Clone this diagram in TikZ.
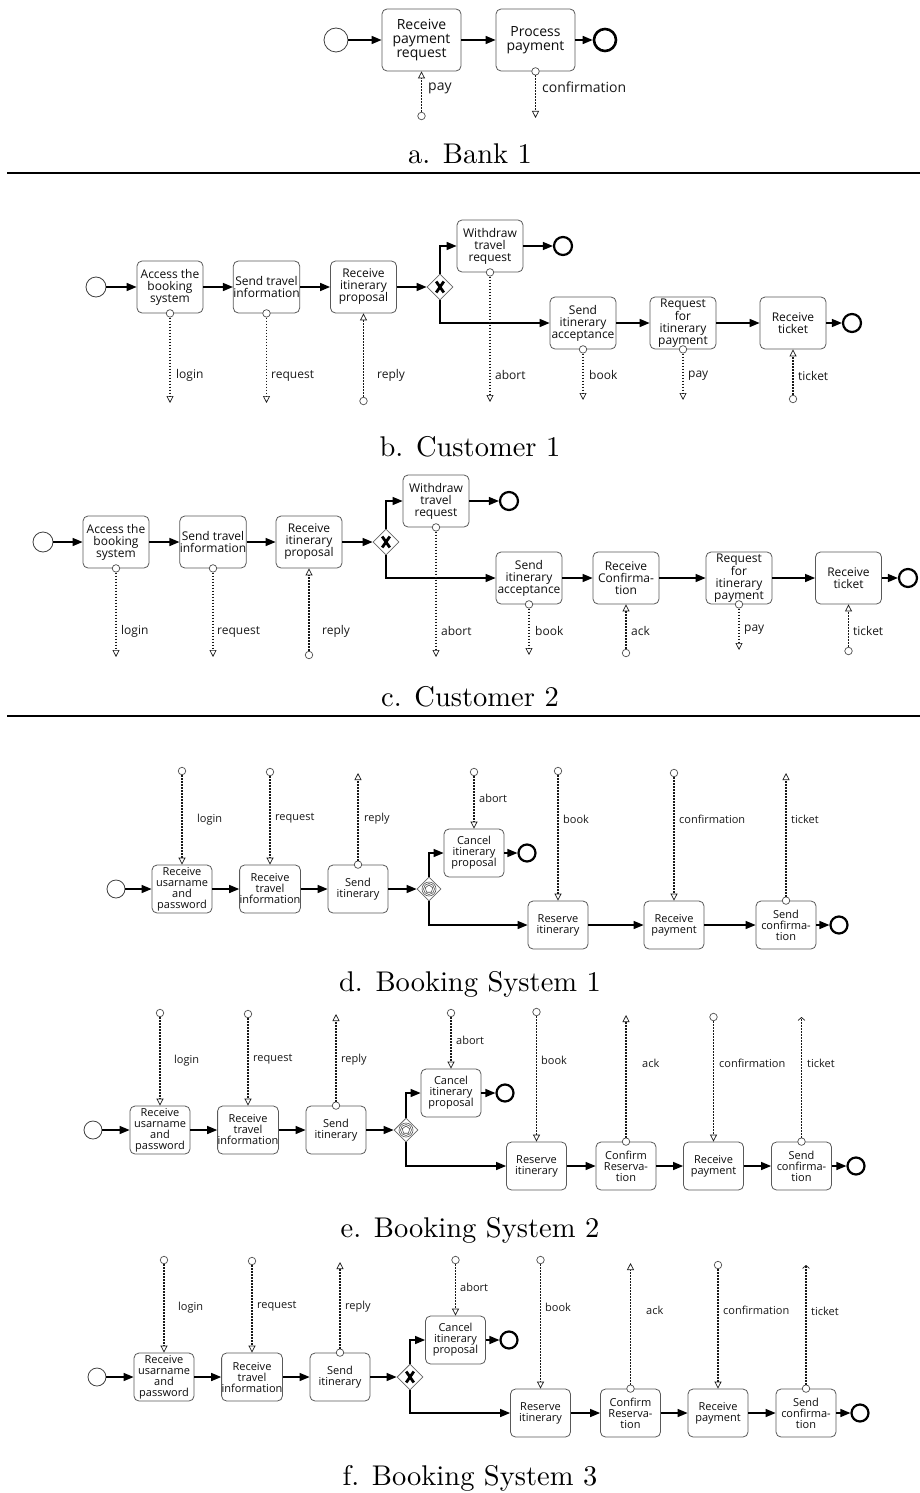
\documentclass[tikz,border=0pt]{standalone}
\usepackage{fontspec}
\newfontfamily\osans{Open Sans}
\newfontfamily\capfont{lmroman10-regular.otf}
\usetikzlibrary{arrows.meta,shapes.geometric,calc}
\newcommand\msgOut[4]{% anchor, name, end y, tip
  \node[mc] (#2c) at (#1) {};
  \coordinate (#2e) at (#1 |- 0,#3);
  \draw[msg,#4] (#2c) -- (#2e);}
\newcommand\msgIn[3]{% anchor, name, start y
  \node[mc] (#2c) at (#1 |- 0,#3) {};
  \draw[msg,tri] (#2c) -- (#1);}
\newcommand\xgw[2]{% name, pos
  \node[gw] (#1) at (#2) {};
  \draw[line width=2.8pt,line cap=butt] ([shift={(-3.8,-5.5)}]#1.center) -- ([shift={(3.8,5.5)}]#1.center);
  \draw[line width=2.8pt,line cap=butt] ([shift={(-3.8,5.5)}]#1.center) -- ([shift={(3.8,-5.5)}]#1.center);}
\newcommand\egw[2]{% name, pos
  \node[gw,minimum size=24pt] (#1) at (#2) {};
  \node[circle,draw=black!65,line width=0.6pt,minimum size=14pt,inner sep=0pt] (#1o) at (#1) {};
  \node[circle,draw=black!65,line width=0.6pt,minimum size=11pt,inner sep=0pt] (#1i) at (#1) {};
  \node[regular polygon,regular polygon sides=5,draw=black!70,line width=0.6pt,minimum size=8pt,inner sep=0pt] (#1p) at (#1) {};}
\begin{document}
\begin{tikzpicture}[x=1pt,y=-1pt,
  task/.style={draw=black!65, rounded corners=5pt, line width=0.8pt, fill=white,
    align=center, inner sep=0pt, text=black!95},
  bank/.style={task, minimum width=79pt, minimum height=62pt, font=\osans\fontsize{14}{14}\selectfont},
  cust/.style={task, minimum width=66pt, minimum height=52pt, font=\osans\fontsize{12}{12}\selectfont},
  bsys/.style={task, minimum width=60pt, minimum height=48pt, font=\osans\fontsize{11}{11}\selectfont},
  sev/.style={circle, draw=black!75, line width=0.8pt, fill=white, inner sep=0pt},
  eev/.style={circle, draw=black, line width=2.2pt, fill=white, inner sep=0pt},
  gw/.style={diamond, draw=black!60, line width=0.8pt, fill=white, inner sep=0pt, minimum size=26pt},
  seq/.style={line width=1.4pt, -{Triangle[length=10pt,width=8pt]}},
  msg/.style={line width=1.6pt, black!90, dash pattern=on 1.5pt off 1.5pt},
  tri/.style={-{Triangle[open,length=7pt,width=7pt,line width=0.7pt]}},
  barb/.style={-{Straight Barb[length=3pt,width=7pt,line width=0.7pt]}},
  mc/.style={circle, draw=black!70, fill=white, line width=0.7pt, inner sep=0pt, minimum size=7.5pt},
  lab/.style={anchor=west, inner sep=0pt, text=black!90},
  lab14/.style={lab, font=\osans\fontsize{14}{14}\selectfont},
  lab12/.style={lab, font=\osans\fontsize{12}{12}\selectfont},
  lab11/.style={lab, font=\osans\fontsize{11}{11}\selectfont},
  captxt/.style={anchor=base, font=\capfont\fontsize{28.5}{30}\selectfont, inner sep=0pt}]
\useasboundingbox (0,0) rectangle (920,1493);

% ---------------- a. Bank 1
\node[sev, minimum size=24pt] (as) at (336,40) {};
\node[bank] (a1) at (421.5,40) {Receive\\payment\\request};
\node[bank] (a2) at (535.5,40) {Process\\payment};
\node[eev, minimum size=22pt, line width=2.6pt] (ae) at (605,40) {};
\draw[seq] (as) -- (a1);
\draw[seq] (a1) -- (a2);
\draw[seq] (a2) -- (ae);
\msgIn{a1.south}{apay}{116}
\node[lab14] (apayl) at (428,88) {pay};
\msgOut{a2.south}{aconf}{118}{tri}
\node[lab14] (aconfl) at (542,87) {confirmation};
\node[captxt] (acap) at (470,163) {a. Bank 1};
\coordinate (l1a) at (7,173); \coordinate (l1b) at (920,173);
\draw[line width=1.2pt] (l1a) -- (l1b);

% ---------------- b. Customer 1
\node[sev, minimum size=20pt] (bs) at (96,287) {};
\node[cust] (b1) at (170,287) {Access the\\booking\\system};
\node[cust] (b2) at (266.5,287) {Send travel\\information};
\node[cust] (b3) at (363.5,287) {Receive\\itinerary\\proposal};
\xgw{bg}{440,287}
\node[cust] (bw) at (490,246) {Withdraw\\travel\\request};
\node[eev, minimum size=18pt] (bwe) at (563,246) {};
\node[cust] (b4) at (583,323) {Send\\itinerary\\acceptance};
\node[cust] (b5) at (683,323) {Request\\for\\itinerary\\payment};
\node[cust] (b6) at (793,323) {Receive\\ticket};
\node[eev, minimum size=18pt] (b6e) at (852,323) {};
\draw[seq] (bs) -- (b1);
\draw[seq] (b1) -- (b2);
\draw[seq] (b2) -- (b3);
\draw[seq] (b3) -- (bg);
\draw[seq] (bg.north) |- (bw.west);
\draw[seq] (bw) -- (bwe);
\draw[seq] (bg.south) |- (b4.west);
\draw[seq] (b4) -- (b5);
\draw[seq] (b5) -- (b6);
\draw[seq] (b6) -- (b6e);
\msgOut{b1.south}{blog}{403}{tri}  \node[lab12] (blogl) at (176,375) {login};
\msgOut{b2.south}{breq}{403}{tri}  \node[lab12] (breql) at (271,376) {request};
\msgIn{b3.south}{brep}{401}        \node[lab12] (brepl) at (377,375) {reply};
\msgOut{bw.south}{babo}{402}{tri}  \node[lab12] (babol) at (495,375) {abort};
\msgOut{b4.south}{bboo}{400}{tri}  \node[lab12] (bbool) at (589,375) {book};
\msgOut{b5.south}{bpay}{400}{tri}  \node[lab12] (bpayl) at (688,376) {pay};
\msgIn{b6.south}{btic}{399}        \node[lab12] (bticl) at (798,376) {ticket};
\node[captxt] (bcap) at (470,456) {b. Customer 1};

% ---------------- c. Customer 2
\node[sev, minimum size=20pt] (cs) at (43,542) {};
\node[cust] (c1) at (116,542) {Access the\\booking\\system};
\node[cust] (c2) at (213,542) {Send travel\\information};
\node[cust] (c3) at (309,542) {Receive\\itinerary\\proposal};
\xgw{cg}{386,542}
\node[cust] (cw) at (436,501) {Withdraw\\travel\\request};
\node[eev, minimum size=18pt] (cwe) at (509,501) {};
\node[cust] (c4) at (529,578) {Send\\itinerary\\acceptance};
\node[cust] (c5) at (626,578) {Receive\\Confirma-\\tion};
\node[cust] (c6) at (739,578) {Request\\for\\itinerary\\payment};
\node[cust] (c7) at (848.5,578) {Receive\\ticket};
\node[eev, minimum size=18pt] (c7e) at (908,578) {};
\draw[seq] (cs) -- (c1);
\draw[seq] (c1) -- (c2);
\draw[seq] (c2) -- (c3);
\draw[seq] (c3) -- (cg);
\draw[seq] (cg.north) |- (cw.west);
\draw[seq] (cw) -- (cwe);
\draw[seq] (cg.south) |- (c4.west);
\draw[seq] (c4) -- (c5);
\draw[seq] (c5) -- (c6);
\draw[seq] (c6) -- (c7);
\draw[seq] (c7) -- (c7e);
\msgOut{c1.south}{clog}{657}{tri}  \node[lab12] (clogl) at (121,631) {login};
\msgOut{c2.south}{creq}{657}{tri}  \node[lab12] (creql) at (217,632) {request};
\msgIn{c3.south}{crep}{655}        \node[lab12] (crepl) at (322,631) {reply};
\msgOut{cw.south}{cabo}{657}{tri}  \node[lab12] (cabol) at (441,631) {abort};
\msgOut{c4.south}{cboo}{655}{tri}  \node[lab12] (cbool) at (535,631) {book};
\msgIn{c5.south}{cack}{653}        \node[lab12] (cackl) at (631,631) {ack};
\msgOut{c6.south}{cpay}{650}{tri}  \node[lab12] (cpayl) at (744,630) {pay};
\msgIn{c7.south}{ctic}{651}        \node[lab12] (cticl) at (853,631) {ticket};
\node[captxt] (ccap) at (470,706) {c. Customer 2};
\coordinate (l2a) at (7,716); \coordinate (l2b) at (920,716);
\draw[line width=1.2pt] (l2a) -- (l2b);

% ---------------- d. Booking System 1
\node[sev, minimum size=18pt] (ds) at (116,889) {};
\node[bsys] (d1) at (182,889) {Receive\\usarname\\and\\password};
\node[bsys] (d2) at (270,889) {Receive\\travel\\information};
\node[bsys] (d3) at (358,889) {Send\\itinerary};
\egw{dg}{429,889}
\node[bsys] (dc) at (474,853) {Cancel\\itinerary\\proposal};
\node[eev, minimum size=17pt] (dce) at (527,853) {};
\node[bsys] (d4) at (558,925) {Reserve\\itinerary};
\node[bsys] (d5) at (674,925) {Receive\\payment};
\node[bsys] (d6) at (786,925) {Send\\confirma-\\tion};
\node[eev, minimum size=17pt] (d6e) at (839,925) {};
\draw[seq] (ds) -- (d1);
\draw[seq] (d1) -- (d2);
\draw[seq] (d2) -- (d3);
\draw[seq] (d3) -- (dg);
\draw[seq] (dg.north) |- (dc.west);
\draw[seq] (dc) -- (dce);
\draw[seq] (dg.south) |- (d4.west);
\draw[seq] (d4) -- (d5);
\draw[seq] (d5) -- (d6);
\draw[seq] (d6) -- (d6e);
\msgIn{d1.north}{dlog}{771}        \node[lab11] (dlogl) at (197,820) {login};
\msgIn{d2.north}{dreq}{772}        \node[lab11] (dreql) at (275,818) {request};
\msgOut{d3.north}{drep}{773}{tri}  \node[lab11] (drepl) at (364,819) {reply};
\msgIn{dc.north}{dabo}{772}        \node[lab11] (dabol) at (479,798) {abort};
\msgIn{d4.north}{dboo}{771}        \node[lab11] (dbool) at (563,819) {book};
\msgIn{d5.north}{dcon}{773}        \node[lab11] (dconl) at (679,819) {confirmation};
\msgOut{d6.north}{dtic}{773}{tri}  \node[lab11] (dticl) at (791,819) {ticket};
\node[captxt] (dcap) at (470,991) {d. Booking System 1};

% ---------------- e. Booking System 2
\node[sev, minimum size=18pt] (es) at (93,1130) {};
\node[bsys] (e1) at (160,1130) {Receive\\usarname\\and\\password};
\node[bsys] (e2) at (248,1130) {Receive\\travel\\information};
\node[bsys] (e3) at (336,1130) {Send\\itinerary};
\egw{eg}{406,1130}
\node[bsys] (ec) at (451,1093) {Cancel\\itinerary\\proposal};
\node[eev, minimum size=17pt] (ece) at (505,1093) {};
\node[bsys] (e4) at (536.5,1166) {Reserve\\itinerary};
\node[bsys] (e5) at (626,1166) {Confirm\\Reserva-\\tion};
\node[bsys] (e6) at (713.5,1166) {Receive\\payment};
\node[bsys] (e7) at (801.5,1166) {Send\\confirma-\\tion};
\node[eev, minimum size=17pt] (e7e) at (856,1166) {};
\draw[seq] (es) -- (e1);
\draw[seq] (e1) -- (e2);
\draw[seq] (e2) -- (e3);
\draw[seq] (e3) -- (eg);
\draw[seq] (eg.north) |- (ec.west);
\draw[seq] (ec) -- (ece);
\draw[seq] (eg.south) |- (e4.west);
\draw[seq] (e4) -- (e5);
\draw[seq] (e5) -- (e6);
\draw[seq] (e6) -- (e7);
\draw[seq] (e7) -- (e7e);
\msgIn{e1.north}{elog}{1013}        \node[lab11] (elogl) at (174,1061) {login};
\msgIn{e2.north}{ereq}{1014}        \node[lab11] (ereql) at (253,1059) {request};
\msgOut{e3.north}{erep}{1014}{tri}  \node[lab11] (erepl) at (341,1060) {reply};
\msgIn{ec.north}{eabo}{1013}        \node[lab11] (eabol) at (456,1040) {abort};
\msgIn{e4.north}{eboo}{1012}        \node[lab11] (ebool) at (541,1060) {book};
\msgOut{e5.north}{eack}{1015}{tri}  \node[lab11] (eackl) at (642,1063) {ack};
\msgIn{e6.north}{econ}{1017}        \node[lab11] (econl) at (719,1063) {confirmation};
\msgOut{e7.north}{etic}{1017}{barb} \node[lab11] (eticl) at (807,1063) {ticket};
\node[captxt] (ecap) at (470,1237) {e. Booking System 2};

% ---------------- f. Booking System 3
\node[sev, minimum size=18pt] (fs) at (97,1377) {};
\node[bsys] (f1) at (164,1377) {Receive\\usarname\\and\\password};
\node[bsys] (f2) at (252,1377) {Receive\\travel\\information};
\node[bsys] (f3) at (340,1377) {Send\\itinerary};
\xgw{fg}{410,1377}
\node[bsys] (fc) at (455.5,1340) {Cancel\\itinerary\\proposal};
\node[eev, minimum size=17pt] (fce) at (509,1340) {};
\node[bsys] (f4) at (540.5,1413) {Reserve\\itinerary};
\node[bsys] (f5) at (630.5,1413) {Confirm\\Reserva-\\tion};
\node[bsys] (f6) at (718,1413) {Receive\\payment};
\node[bsys] (f7) at (806,1413) {Send\\confirma-\\tion};
\node[eev, minimum size=17pt] (f7e) at (860,1413) {};
\draw[seq] (fs) -- (f1);
\draw[seq] (f1) -- (f2);
\draw[seq] (f2) -- (f3);
\draw[seq] (f3) -- (fg);
\draw[seq] (fg.north) |- (fc.west);
\draw[seq] (fc) -- (fce);
\draw[seq] (fg.south) |- (f4.west);
\draw[seq] (f4) -- (f5);
\draw[seq] (f5) -- (f6);
\draw[seq] (f6) -- (f7);
\draw[seq] (f7) -- (f7e);
\msgIn{f1.north}{flog}{1260}        \node[lab11] (flogl) at (178,1308) {login};
\msgIn{f2.north}{freq}{1261}        \node[lab11] (freql) at (257,1306) {request};
\msgOut{f3.north}{frep}{1262}{tri}  \node[lab11] (frepl) at (345,1307) {reply};
\msgIn{fc.north}{fabo}{1260}        \node[lab11] (fabol) at (460,1287) {abort};
\msgIn{f4.north}{fboo}{1260}        \node[lab11] (fbool) at (545,1307) {book};
\msgOut{f5.north}{fack}{1263}{tri}  \node[lab11] (fackl) at (646,1310) {ack};
\msgIn{f6.north}{fcon}{1265}        \node[lab11] (fconl) at (723,1310) {confirmation};
\msgOut{f7.north}{ftic}{1265}{barb} \node[lab11] (fticl) at (811,1311) {ticket};
\node[captxt] (fcap) at (470,1485) {f. Booking System 3};
\end{tikzpicture}
\end{document}
